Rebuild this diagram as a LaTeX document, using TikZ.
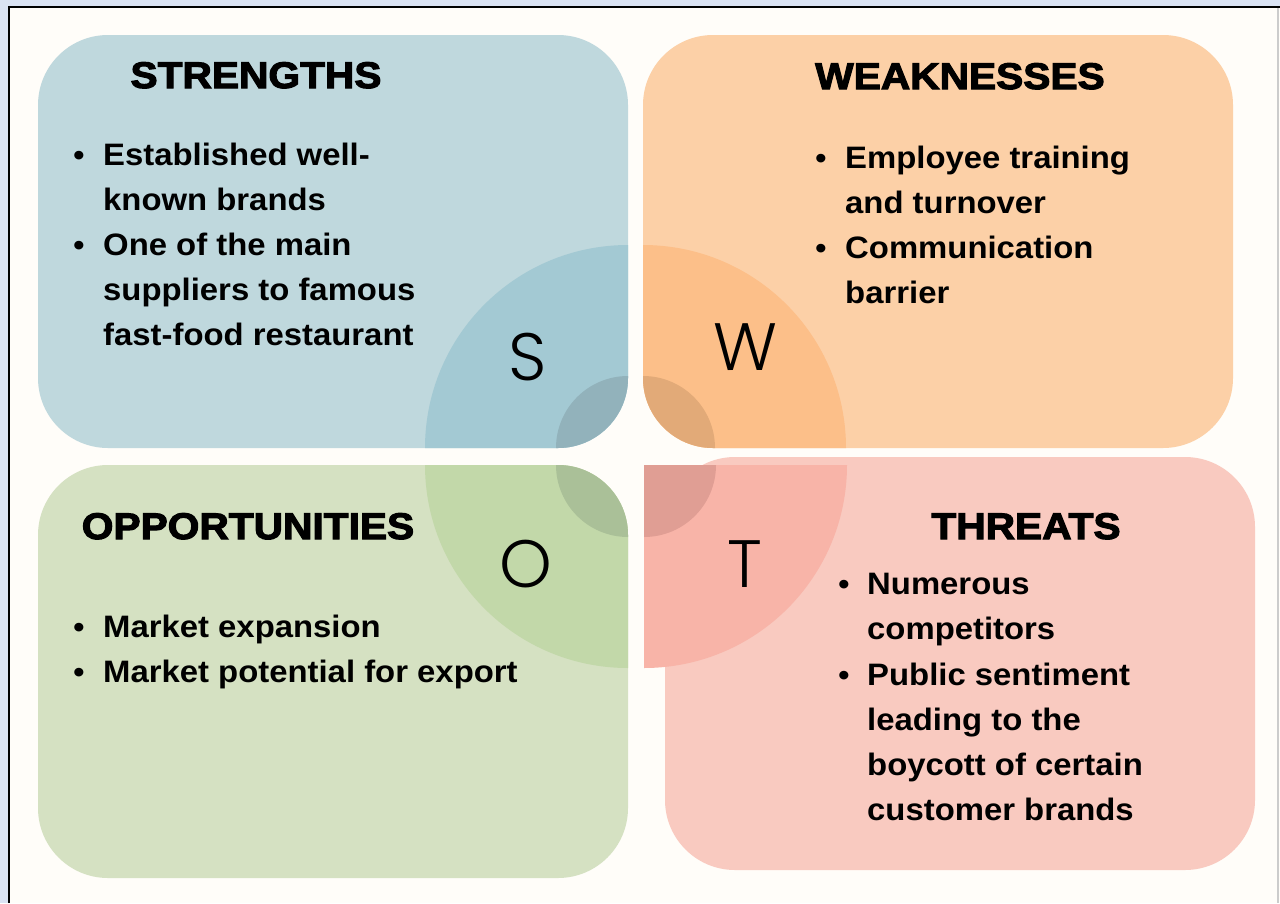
\documentclass[tikz,border=0pt]{standalone}
\usepackage{fontspec}
\setmainfont{Liberation Sans}
\newfontfamily\headfont{Liberation Sans Bold}[FakeBold=3,FakeStretch=1.10]
\newfontfamily\bodyfont{Liberation Sans Bold}[FakeStretch=1.06]
\newfontfamily\letterfont{Poppins Light}
\definecolor{bgblue}{HTML}{DAE3F3}
\definecolor{pagec}{HTML}{FFFDF9}
\definecolor{sbox}{HTML}{BFD8DD}
\definecolor{scirc}{HTML}{A3C9D3}
\definecolor{slens}{HTML}{92B2BB}
\definecolor{wbox}{HTML}{FCD0A7}
\definecolor{wcirc}{HTML}{FCBF89}
\definecolor{wlens}{HTML}{E2AA78}
\definecolor{obox}{HTML}{D5E1C2}
\definecolor{ocirc}{HTML}{C2D8A9}
\definecolor{olens}{HTML}{AAC098}
\definecolor{tbox}{HTML}{F9CAC0}
\definecolor{tcirc}{HTML}{F8B4A8}
\definecolor{tlens}{HTML}{E09E94}
\begin{document}
\begin{tikzpicture}[x=1pt,y=-1pt,
  head/.style={anchor=base, inner sep=0pt, font=\headfont\fontsize{37}{40}\selectfont},
  bodyline/.style={anchor=base west, inner sep=0pt, font=\bodyfont\fontsize{31}{36}\selectfont},
  bul/.style={anchor=base, inner sep=0pt, font=\bodyfont\fontsize{30}{36}\selectfont},
  letter/.style={anchor=base, inner sep=0pt, font=\letterfont\fontsize{67}{70}\selectfont},
  boxshape/.style={rounded corners=70pt}]
\useasboundingbox (0,0) rectangle (1280,903);
\fill[bgblue] (0,0) rectangle (1280,903);
\fill[pagec] (9,7) rectangle (1280,903);
\draw[black, line width=2.5pt] (9,903) -- (9,7) -- (1280,7);
\draw[black!20, line width=1.5pt] (1278,8) -- (1278,903);

% Strengths
\fill[sbox, boxshape] (38,35) rectangle (628,448);
\begin{scope}
  \clip[boxshape] (38,35) rectangle (628,448);
  \fill[scirc] (628,448) circle[radius=203];
  \fill[slens] (628,448) circle[radius=72];
\end{scope}
% Weaknesses
\fill[wbox, boxshape] (643,35) rectangle (1233,448);
\begin{scope}
  \clip[boxshape] (643,35) rectangle (1233,448);
  \fill[wcirc] (643,448) circle[radius=203];
  \fill[wlens] (643,448) circle[radius=72];
\end{scope}
% Opportunities
\fill[obox, boxshape] (38,465) rectangle (628,878);
\begin{scope}
  \clip[boxshape] (38,465) rectangle (628,878);
  \fill[ocirc] (628,465) circle[radius=203];
  \fill[olens] (628,465) circle[radius=72];
\end{scope}
% Threats
\fill[tbox, boxshape] (665,457) rectangle (1255,870);
\begin{scope}
  \clip (644,465) rectangle (900,700);
  \fill[tcirc] (644,465) circle[radius=203];
  \fill[tlens] (644,465) circle[radius=72];
\end{scope}

% Letters
\node[letter] (ls) at (528,380) {S};
\node[letter] (lw) at (745,370) {W};
\node[letter] (lo) at (526,587) {O};
\node[letter] (lt) at (745,587) {T};

% Headers
\node[head] (hs) at (256,88) {STRENGTHS};
\node[head] (hw) at (960,89) {WEAKNESSES};
\node[head] (ho) at (248,539) {OPPORTUNITIES};
\node[head] (ht) at (1026,539) {THREATS};

% Strengths text
\node[bul] (bs1) at (79,165) {•};
\node[bodyline] (s1) at (103,165) {Established well-};
\node[bodyline] (s2) at (103,210) {known brands};
\node[bul] (bs2) at (79,255) {•};
\node[bodyline] (s3) at (103,255) {One of the main};
\node[bodyline] (s4) at (103,300) {suppliers to famous};
\node[bodyline] (s5) at (103,345) {fast-food restaurant};

% Weaknesses text
\node[bul] (bw1) at (821,168) {•};
\node[bodyline] (w1) at (845,168) {Employee training};
\node[bodyline] (w2) at (845,213) {and turnover};
\node[bul] (bw2) at (821,258) {•};
\node[bodyline] (w3) at (845,258) {Communication};
\node[bodyline] (w4) at (845,303) {barrier};

% Opportunities text
\node[bul] (bo1) at (79,637) {•};
\node[bodyline] (o1) at (103,637) {Market expansion};
\node[bul] (bo2) at (79,682) {•};
\node[bodyline] (o2) at (103,682) {Market potential for export};

% Threats text
\node[bul] (bt1) at (844,594) {•};
\node[bodyline] (t1) at (867,594) {Numerous};
\node[bodyline] (t2) at (867,639) {competitors};
\node[bul] (bt2) at (844,685) {•};
\node[bodyline] (t3) at (867,685) {Public sentiment};
\node[bodyline] (t4) at (867,730) {leading to the};
\node[bodyline] (t5) at (867,775) {boycott of certain};
\node[bodyline] (t6) at (867,820) {customer brands};
\end{tikzpicture}
\end{document}
